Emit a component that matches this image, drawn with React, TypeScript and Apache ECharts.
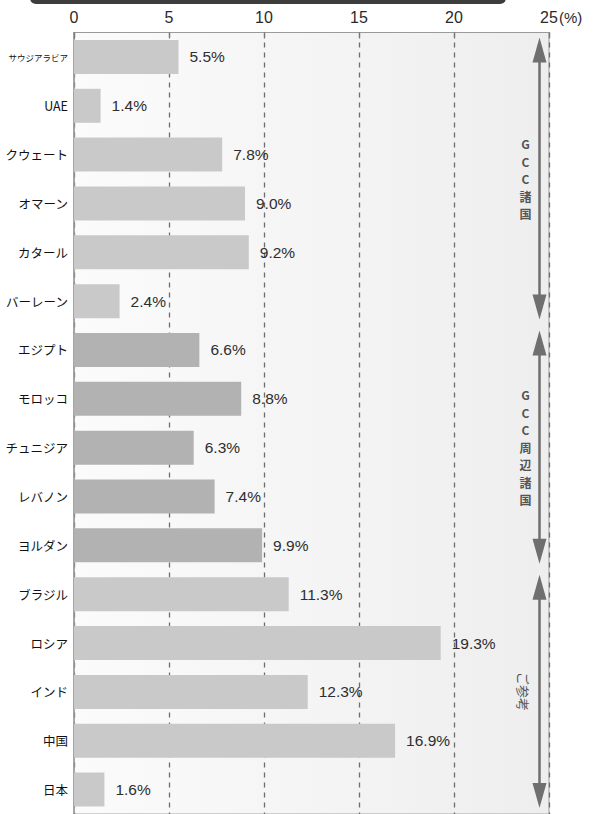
import React, { useEffect, useRef } from "react";
import * as echarts from "echarts";

const categories = [
  "サウジアラビア", "UAE", "クウェート", "オマーン", "カタール", "バーレーン",
  "エジプト", "モロッコ", "チュニジア", "レバノン", "ヨルダン",
  "ブラジル", "ロシア", "インド", "中国", "日本",
];
const values = [5.5, 1.4, 7.8, 9.0, 9.2, 2.4, 6.6, 8.8, 6.3, 7.4, 9.9, 11.3, 19.3, 12.3, 16.9, 1.6];
const groupOf = [0, 0, 0, 0, 0, 0, 1, 1, 1, 1, 1, 2, 2, 2, 2, 2];
const groupLabels = ["GCC諸国", "GCC周辺諸国", "ご参考"];
const xMin = 0;
const xMax = 25;
const xInterval = 5;
const unitLabel = "(%)";

const groupColors = ["#c9c9c9", "#b2b2b2", "#c9c9c9"];
const JP = "'Noto Sans CJK JP', sans-serif";
const LAT = "'Liberation Sans', Arial, sans-serif";

export default function App() {
  const ref = useRef<HTMLDivElement>(null);
  useEffect(() => {
    if (!ref.current) return;
    const chart = echarts.init(ref.current, null, { renderer: "svg" });
    const option: any = {
      animation: false,
      backgroundColor: "#ffffff",
      grid: {
        left: 74,
        right: 44,
        top: 32.5,
        height: 785,
        show: true,
        borderColor: "#a8a8a8",
        borderWidth: 1.2,
        backgroundColor: new echarts.graphic.LinearGradient(0, 0, 1, 0, [
          { offset: 0, color: "#fbfbfb" },
          { offset: 1, color: "#eeeeee" },
        ]),
      },
      xAxis: {
        type: "value",
        position: "top",
        min: xMin,
        max: xMax,
        interval: xInterval,
        axisLine: { show: true, lineStyle: { color: "#9a9a9a", width: 1.2 } },
        axisTick: { show: true, inside: true, length: 6, lineStyle: { color: "#777", width: 1.2 } },
        axisLabel: {
          margin: 7,
          fontSize: 16,
          color: "#2a2a2a",
          fontFamily: LAT,
        },
        splitLine: {
          show: true,
          lineStyle: { color: "#6e6e6e", type: [5, 5], width: 1.3 },
        },
      },
      yAxis: {
        type: "category",
        inverse: true,
        data: categories,
        axisLine: { show: true, lineStyle: { color: "#9a9a9a", width: 1.5 } },
        axisTick: { show: false },
        axisLabel: {
          margin: 6,
          fontSize: 12.5,
          color: "#111",
          fontFamily: JP,
          formatter: (v: string) => (v.length > 6 ? "{s|" + v + "}" : v),
          rich: { s: { fontSize: 8.5, fontFamily: JP, color: "#111" } },
        },
      },
      series: [
        {
          type: "bar",
          barWidth: 34,
          data: values.map((v, i) => ({
            value: v,
            itemStyle: { color: groupColors[groupOf[i]] },
          })),
          label: {
            show: true,
            position: "right",
            distance: 11,
            fontSize: 15.5,
            color: "#2e2e2e",
            fontFamily: LAT,
            formatter: (p: any) => Number(p.value).toFixed(1) + "%",
          },
        },
      ],
    };
    chart.setOption(option);

    const graphics: any[] = [];
    graphics.push({
      type: "rect",
      shape: { x: 30, y: -12, width: 476, height: 16, r: 6 },
      style: { fill: "#3d3d3d" },
    });
    const x25 = chart.convertToPixel({ xAxisIndex: 0 }, xMax);
    graphics.push({
      type: "text",
      x: x25 + 10,
      y: 17,
      style: { text: unitLabel, fill: "#2a2a2a", font: "15px " + LAT, verticalAlign: "middle", align: "left" },
    });
    const ax = chart.convertToPixel({ xAxisIndex: 0 }, 24.5);
    const c0 = chart.convertToPixel({ yAxisIndex: 0 }, categories[0]);
    const c1 = chart.convertToPixel({ yAxisIndex: 0 }, categories[1]);
    const band = c1 - c0;
    groupLabels.forEach((label, g) => {
      const idx = groupOf.map((k, i) => (k === g ? i : -1)).filter((i) => i >= 0);
      const first = idx[0];
      const last = idx[idx.length - 1];
      const top = chart.convertToPixel({ yAxisIndex: 0 }, categories[first]) - band / 2 + 5;
      const bot = chart.convertToPixel({ yAxisIndex: 0 }, categories[last]) + band / 2 - 6;
      const col = "#6f6f6f";
      const hw = 7;
      const hl = 25;
      graphics.push({
        type: "line",
        shape: { x1: ax, y1: top + hl - 2, x2: ax, y2: bot - hl + 2 },
        style: { stroke: col, lineWidth: 2.5 },
      });
      graphics.push({
        type: "polygon",
        shape: { points: [[ax, top], [ax - hw, top + hl], [ax + hw, top + hl]] },
        style: { fill: col },
      });
      graphics.push({
        type: "polygon",
        shape: { points: [[ax, bot], [ax - hw, bot - hl], [ax + hw, bot - hl]] },
        style: { fill: col },
      });
      const mid = (top + bot) / 2;
      if (g === 2) {
        graphics.push({
          type: "text",
          x: ax - 16,
          y: mid,
          rotation: -Math.PI / 2,
          style: {
            text: label,
            font: "13px " + JP,
            fill: "#555",
            align: "center",
            verticalAlign: "middle",
          },
        });
      } else {
        graphics.push({
          type: "text",
          x: ax - 14,
          y: mid,
          style: {
            text: label.split("").join("\n"),
            font: "bold 12px " + JP,
            lineHeight: 17.5,
            fill: "#555",
            align: "center",
            verticalAlign: "middle",
          },
        });
      }
    });
    chart.setOption({ graphic: graphics });
    return () => chart.dispose();
  }, []);
  return (
    <div style={{ position: "fixed", top: 0, left: 0, width: 593, height: 814, overflow: "hidden" }}>
      <div ref={ref} style={{ width: 593, height: 814 }} />
    </div>
  );
}
